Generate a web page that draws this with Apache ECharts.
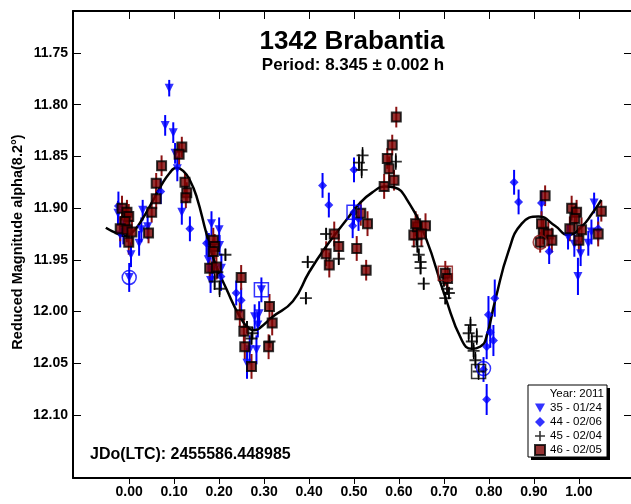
<!DOCTYPE html>
<html>
<head>
<meta charset="utf-8">
<script src="https://cdn.jsdelivr.net/npm/echarts@6/dist/echarts.min.js"></script>
<style>html,body{margin:0;padding:0;background:#fff}#c{width:631px;height:504px}</style>
</head>
<body>
<div id="c"></div>
<script>
// Tick values
const xTicks = [0, 0.1, 0.2, 0.3, 0.4, 0.5, 0.6, 0.7, 0.8, 0.9, 1.0];
const yTicks = [11.75, 11.80, 11.85, 11.90, 11.95, 12.00, 12.05, 12.10];

// Fourier fit curve (phase, reduced magnitude)
const curvePhase = [-0.052,-0.03,-0.01,0.01,0.03,0.05,0.07,0.09,0.105,0.12,0.135,0.15,0.172,0.19,0.216,0.246,0.265,0.278,0.29,0.319,0.364,0.40,0.438,0.482,0.511,0.54,0.57,0.59,0.618,0.659,0.703,0.74,0.762,0.78,0.792,0.814,0.844,0.873,0.91,0.947,0.976,1.006,1.03,1.05];
const curveMag   = [11.919,11.924,11.927,11.922,11.910,11.895,11.879,11.866,11.861,11.864,11.873,11.889,11.925,11.952,11.978,12.005,12.016,12.018,12.016,12.005,11.990,11.962,11.937,11.912,11.896,11.885,11.879,11.880,11.892,11.928,11.986,12.028,12.036,12.034,12.028,11.989,11.941,11.915,11.908,11.917,11.926,11.918,11.905,11.892];

// Sessions: [phase, mag, error]
const s35 = [
 [-0.020,11.926,0.012],[-0.013,11.923,0.012],[0.000,11.967,0.014],[0.004,11.945,0.012],[0.022,11.934,0.012],
 [0.027,11.921,0.012],[0.030,11.902,0.010],[0.041,11.918,0.012],[-0.025,11.905,0.012],
 [0.080,11.820,0.010],[0.089,11.784,0.008],[0.098,11.827,0.010],[0.102,11.847,0.010],[0.107,11.862,0.012],[0.117,11.904,0.012],
 [0.183,11.915,0.012],[0.200,11.921,0.012],[0.177,11.936,0.012],[0.176,11.950,0.012],[0.181,11.970,0.012],[0.205,11.958,0.014],[0.201,11.936,0.010],[0.185,11.960,0.012],
 [0.294,11.979,0.012],[0.279,12.005,0.012],[0.289,12.002,0.012],[0.286,12.013,0.012],[0.283,12.037,0.014],[0.268,12.037,0.014],[0.262,12.050,0.015],
 [0.998,11.966,0.018],[1.021,11.934,0.012],[1.028,11.923,0.012],[0.976,11.928,0.012],[1.004,11.944,0.012],[1.034,11.895,0.010],[0.990,11.935,0.012]
];
const s44 = [
 [-0.024,11.898,0.014],[0.070,11.884,0.012],[0.135,11.920,0.012],[0.172,11.934,0.012],[0.204,11.966,0.014],
 [0.238,11.982,0.012],[0.249,11.989,0.012],[0.430,11.878,0.012],[0.444,11.897,0.012],[0.497,11.917,0.012],
 [0.500,11.863,0.012],[0.500,11.904,0.012],[0.510,11.910,0.012],[0.788,12.056,0.012],[0.795,12.085,0.015],
 [0.799,12.003,0.018],[0.813,11.987,0.018],[0.803,12.020,0.015],[0.810,12.028,0.015],[0.795,12.034,0.012],
 [0.856,11.875,0.012],[0.866,11.894,0.012],[0.917,11.895,0.012],[0.934,11.942,0.012],[1.043,11.920,0.012]
];
const s45 = [
 [0.214,11.945,0.006],[0.201,11.978,0.008],[0.190,11.971,0.008],[0.196,11.962,0.006],
 [0.274,12.021,0.006],[0.272,12.026,0.006],[0.312,12.029,0.006],[0.262,12.015,0.006],
 [0.397,11.952,0.006],[0.393,11.987,0.006],[0.438,11.925,0.006],[0.466,11.949,0.006],
 [0.519,11.849,0.008],[0.511,11.856,0.008],[0.517,11.863,0.008],[0.593,11.855,0.008],
 [0.641,11.937,0.006],[0.644,11.945,0.006],[0.648,11.952,0.006],[0.648,11.958,0.006],[0.655,11.973,0.006],[0.639,11.930,0.006],
 [0.707,11.978,0.006],[0.711,11.982,0.006],[0.703,11.987,0.006],[0.700,11.970,0.006],
 [0.759,12.013,0.008],[0.755,12.021,0.008],[0.762,12.029,0.008],[0.773,12.024,0.008],[0.770,12.047,0.008],[0.766,12.038,0.008],[0.777,12.058,0.008]
];
const s46 = [
 [-0.016,11.900,0.012],[-0.005,11.904,0.012],[-0.001,11.908,0.012],[-0.009,11.913,0.012],[-0.020,11.920,0.012],
 [-0.005,11.921,0.012],[0.006,11.923,0.012],[-0.001,11.933,0.012],[0.043,11.924,0.010],[0.050,11.904,0.010],
 [0.060,11.891,0.010],[0.060,11.876,0.010],
 [0.117,11.841,0.010],[0.111,11.848,0.010],[0.072,11.859,0.010],[0.124,11.875,0.010],[0.128,11.885,0.010],[0.126,11.890,0.010],
 [0.187,11.931,0.012],[0.190,11.937,0.012],[0.179,11.958,0.012],[0.194,11.957,0.012],[0.187,11.942,0.012],
 [0.249,11.967,0.012],[0.246,12.003,0.012],[0.255,12.019,0.012],[0.257,12.034,0.012],[0.272,12.053,0.012],
 [0.312,11.995,0.012],[0.318,12.011,0.012],[0.310,12.034,0.012],
 [0.438,11.944,0.012],[0.445,11.955,0.012],[0.456,11.925,0.012],[0.466,11.937,0.012],[0.506,11.939,0.012],
 [0.530,11.915,0.012],[0.515,11.905,0.012],[0.527,11.960,0.010],
 [0.594,11.812,0.010],[0.585,11.839,0.010],[0.574,11.852,0.010],[0.578,11.862,0.012],[0.589,11.873,0.010],[0.567,11.879,0.012],
 [0.633,11.926,0.012],[0.641,11.918,0.012],[0.659,11.917,0.012],[0.637,11.915,0.012],[0.650,11.925,0.012],[0.703,11.963,0.012],[0.708,11.968,0.012],
 [0.921,11.923,0.012],[0.932,11.925,0.012],[0.940,11.931,0.012],[0.925,11.888,0.010],[0.917,11.915,0.012],
 [0.984,11.900,0.012],[0.995,11.904,0.012],[0.991,11.910,0.012],[0.980,11.920,0.012],[1.000,11.931,0.012],
 [1.006,11.921,0.012],[1.050,11.903,0.010],[1.043,11.925,0.012],[0.914,11.933,0.010]
];

// Session start/end markers
const circles35 = [[0.000,11.967]];
const circles44 = [[0.788,12.055]];
const circles46 = [[0.914,11.933]];
const squares35 = [[0.294,11.979]];
const squares44 = [[0.500,11.904]];
const squares45 = [[0.777,12.058]];
const squares46 = [[0.703,11.963]];

const names = ['35 - 01/24','44 - 02/06','45 - 02/04','46 - 02/05'];

const BLUE = '#0000ff', RED = '#8b1212', SQ = '#7a0000';
const FONT = 'Liberation Sans, Arial, sans-serif';
const PLUS = 'path://M4.2,0h1.6v4.2h4.2v1.6h-4.2v4.2h-1.6v-4.2h-4.2v-1.6h4.2z';
const TRI_DOWN = 'path://M0,0L10,0L5,9Z';

function errSeries(data, color, w) {
  return {
    type: 'custom', data: data, z: 2, silent: true,
    encode: { x: 0, y: 1 },
    renderItem: function (params, api) {
      const x = api.value(0), y = api.value(1), e = api.value(2);
      const p1 = api.coord([x, y - e]), p2 = api.coord([x, y + e]);
      return { type: 'line', shape: { x1: p1[0], y1: p1[1], x2: p2[0], y2: p2[1] },
               style: { stroke: color, lineWidth: w } };
    }
  };
}
function markSeries(data, symbol, color) {
  return { type: 'scatter', data: data, symbol: symbol, symbolSize: 14, z: 5, silent: true,
           itemStyle: { color: 'none', borderColor: color, borderWidth: 1.5 } };
}

const chart = echarts.init(document.getElementById('c'), null, { renderer: 'canvas' });
const xMin = -0.125, xMax = 1.116, yMin = 11.7094, yMax = 12.1609;
const lblStyle = { color: '#000', fontFamily: FONT, fontWeight: 'bold', fontSize: 14 };

chart.setOption({
  animation: false,
  backgroundColor: '#fff',
  grid: { left: 73, top: 11, width: 561, height: 467 },
  xAxis: [
    { type: 'value', position: 'bottom', min: xMin, max: xMax,
      axisLine: { show: true, onZero: false, lineStyle: { color: '#000', width: 2 } },
      axisTick: { show: true, inside: false, length: 6, customValues: xTicks, lineStyle: { color: '#000', width: 1 } },
      axisLabel: Object.assign({ customValues: xTicks, margin: 7, formatter: v => v.toFixed(2) }, lblStyle),
      splitLine: { show: false } },
    { type: 'value', position: 'top', min: xMin, max: xMax,
      axisLine: { show: true, onZero: false, lineStyle: { color: '#000', width: 2 } },
      axisTick: { show: true, inside: true, length: 8, customValues: xTicks, lineStyle: { color: '#000', width: 1 } },
      axisLabel: { show: false }, splitLine: { show: false } }
  ],
  yAxis: [
    { type: 'value', position: 'left', inverse: true, min: yMin, max: yMax,
      axisLine: { show: true, onZero: false, lineStyle: { color: '#000', width: 2 } },
      axisTick: { show: true, inside: true, length: 8, customValues: yTicks, lineStyle: { color: '#000', width: 1 } },
      axisLabel: Object.assign({ customValues: yTicks, margin: 5, formatter: v => v.toFixed(2) }, lblStyle),
      splitLine: { show: false } },
    { type: 'value', position: 'right', inverse: true, min: yMin, max: yMax,
      axisLine: { show: false, onZero: false },
      axisTick: { show: true, inside: true, length: 7, customValues: yTicks, lineStyle: { color: '#000', width: 1 } },
      axisLabel: { show: false }, splitLine: { show: false } }
  ],
  legend: {
    orient: 'vertical', left: 534, top: 402, z: 10,
    itemWidth: 10, itemHeight: 10, itemGap: 2, padding: 0,
    textStyle: { fontFamily: FONT, fontSize: 11.5, lineHeight: 12, color: '#000' },
    data: [
      { name: names[0], icon: TRI_DOWN, itemStyle: { color: BLUE } },
      { name: names[1] },
      { name: names[2] },
      { name: names[3] }
    ]
  },
  graphic: [
    { type: 'rect', z: 8, shape: { x: 531, y: 388, width: 79, height: 72 }, style: { fill: '#000' } },
    { type: 'rect', z: 9, shape: { x: 528, y: 385, width: 79, height: 72 }, style: { fill: '#fff', stroke: '#000', lineWidth: 1 } },
    { type: 'text', z: 11, style: { text: 'Year: 2011', x: 604, y: 394, align: 'right', verticalAlign: 'middle',
      font: '11.5px ' + FONT, fill: '#000' } },
    { type: 'text', z: 11, style: { text: '1342 Brabantia', x: 352, y: 42, align: 'center', verticalAlign: 'middle',
      font: 'bold 26px ' + FONT, fill: '#000' } },
    { type: 'text', z: 11, style: { text: 'Period: 8.345 \u00b1 0.002 h', x: 353, y: 65, align: 'center', verticalAlign: 'middle',
      font: 'bold 17px ' + FONT, fill: '#000' } },
    { type: 'text', z: 11, style: { text: 'JDo(LTC): 2455586.448985', x: 90, y: 455, align: 'left', verticalAlign: 'middle',
      font: 'bold 16px ' + FONT, fill: '#000' } },
    { type: 'text', z: 11, rotation: Math.PI / 2, x: 18, y: 242,
      style: { text: 'Reduced Magnitude alpha(8.2\u00b0)', x: 0, y: 0, align: 'center', verticalAlign: 'middle',
      font: 'bold 14.5px ' + FONT, fill: '#000' } }
  ],
  series: [
    errSeries(s35, BLUE, 2), errSeries(s44, BLUE, 2), errSeries(s45, '#000', 1.5), errSeries(s46, RED, 2),
    { type: 'line', data: curvePhase.map((p, i) => [p, curveMag[i]]), smooth: 0.5, showSymbol: false, silent: true, z: 3,
      lineStyle: { color: '#000', width: 2.5 } },
    { name: names[0], type: 'scatter', data: s35, symbol: 'triangle', symbolRotate: 180, symbolSize: 9, z: 4,
      itemStyle: { color: BLUE } },
    { name: names[1], type: 'scatter', data: s44, symbol: 'diamond', symbolSize: 9, z: 4,
      itemStyle: { color: BLUE } },
    { name: names[2], type: 'scatter', data: s45, symbol: PLUS, symbolSize: 12, z: 4,
      itemStyle: { color: '#000' } },
    { name: names[3], type: 'scatter', data: s46, symbol: 'rect', symbolSize: 9, z: 4,
      itemStyle: { color: SQ, borderColor: '#000', borderWidth: 2 } },
    markSeries(circles35, 'circle', BLUE), markSeries(circles44, 'circle', BLUE), markSeries(circles46, 'circle', RED),
    markSeries(squares35, 'rect', BLUE), markSeries(squares44, 'rect', BLUE), markSeries(squares45, 'rect', '#000'),
    markSeries(squares46, 'rect', RED)
  ]
});
</script>
</body>
</html>
